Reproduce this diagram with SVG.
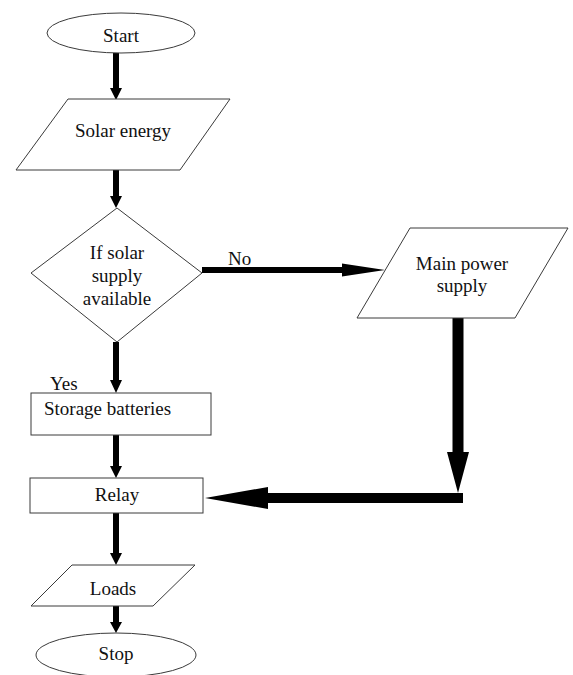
<svg xmlns="http://www.w3.org/2000/svg" width="573" height="675" viewBox="0 0 573 675">
<style>
.shape{fill:#fff;stroke:#3a3a3a;stroke-width:1}
.t{font-family:"Liberation Serif","Times New Roman",serif;font-size:19px;fill:#111}
.c{text-anchor:middle}
.arr{fill:#000}
</style>
<rect width="573" height="675" fill="#fff"/>
<g id="connectors">
<polygon class="arr" points="113,53 119,53 119,88 122,88 116,100 110,88 113,88"/>
<polygon class="arr" points="113,170 119,170 119,196 122,196 116,208 110,196 113,196"/>
<polygon class="arr" points="113,342 119,342 119,380 122,380 116,393 110,380 113,380"/>
<polygon class="arr" points="113,435 119,435 119,466 122,466 116,478 110,466 113,466"/>
<polygon class="arr" points="113,513 119,513 119,553 122,553 116,565 110,553 113,553"/>
<polygon class="arr" points="113,606 119,606 119,622 122,622 116,633 110,622 113,622"/>
<polygon class="arr" points="202,267 342,267 342,263.5 385,270 342,276.5 342,273 202,273"/>
<polygon class="arr" points="452.5,318 463.5,318 463.5,452 469,452 458,493 447,452 452.5,452"/>
<polygon class="arr" points="463,493 463,503 268,503 268,509 205,498 268,487 268,493"/>
<text class="t" x="228" y="265">No</text>
<text class="t" x="50" y="390">Yes</text>
</g>
<g id="start">
<ellipse class="shape" cx="121" cy="33" rx="74" ry="20"/>
<text class="t c" x="121" y="42">Start</text>
</g>
<g id="solar">
<polygon class="shape" points="68,99 230,99 180,170 16,170"/>
<text class="t c" x="123" y="137">Solar energy</text>
</g>
<g id="decision">
<polygon class="shape" points="117,208 202,273 117,342 31,273"/>
<text class="t c" x="117" y="259">If solar</text>
<text class="t c" x="117" y="282">supply</text>
<text class="t c" x="117" y="305">available</text>
</g>
<g id="mains">
<polygon class="shape" points="410,228 568,228 515,318 357,318"/>
<text class="t c" x="462" y="270">Main power</text>
<text class="t c" x="462" y="292">supply</text>
</g>
<g id="storage">
<rect class="shape" x="31" y="393" width="180" height="42"/>
<text class="t" x="44" y="415">Storage batteries</text>
</g>
<g id="relay">
<rect class="shape" x="30" y="478" width="173" height="35"/>
<text class="t c" x="117" y="501">Relay</text>
</g>
<g id="loads">
<polygon class="shape" points="72,565 195,565 153,606 31,606"/>
<text class="t c" x="113" y="595">Loads</text>
</g>
<g id="stop">
<ellipse class="shape" cx="116" cy="655" rx="80" ry="22"/>
<text class="t c" x="116" y="660">Stop</text>
</g>
</svg>
